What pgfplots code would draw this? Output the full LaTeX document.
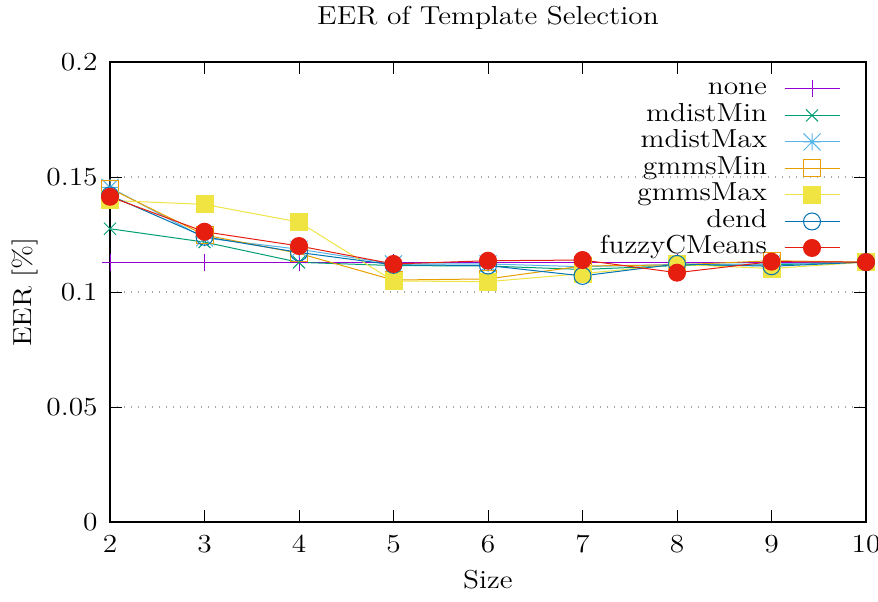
\documentclass[border=0pt]{standalone}
\usepackage{graphicx}
\usepackage{pgfplots}
\pgfplotsset{compat=1.18}
\newcommand{\sx}[1]{\scalebox{1.13}[1]{#1}}
\definecolor{cnone}{RGB}{148,0,211}
\definecolor{cmdmin}{RGB}{0,158,115}
\definecolor{cmdmax}{RGB}{86,180,233}
\definecolor{cgmin}{RGB}{230,159,0}
\definecolor{cgmax}{RGB}{240,228,66}
\definecolor{cdend}{RGB}{0,114,178}
\definecolor{cfuzzy}{RGB}{229,30,16}
\pgfdeclareplotmark{plusx}{%
  \pgfpathmoveto{\pgfqpoint{-\pgfplotmarksize}{0pt}}\pgfpathlineto{\pgfqpoint{\pgfplotmarksize}{0pt}}%
  \pgfpathmoveto{\pgfqpoint{0pt}{-\pgfplotmarksize}}\pgfpathlineto{\pgfqpoint{0pt}{\pgfplotmarksize}}%
  \pgfpathmoveto{\pgfqpoint{-\pgfplotmarksize}{-\pgfplotmarksize}}\pgfpathlineto{\pgfqpoint{\pgfplotmarksize}{\pgfplotmarksize}}%
  \pgfpathmoveto{\pgfqpoint{-\pgfplotmarksize}{\pgfplotmarksize}}\pgfpathlineto{\pgfqpoint{\pgfplotmarksize}{-\pgfplotmarksize}}%
  \pgfusepathqstroke}
\begin{document}
\fontsize{13}{15}\selectfont
\begin{tikzpicture}[font=\fontsize{13}{15}\selectfont]
\begin{axis}[
  width=378pt, height=230pt, scale only axis,
  xmin=2, xmax=10, ymin=0, ymax=0.2,
  xtick={2,3,4,5,6,7,8,9,10},
  xticklabels={\sx{2},\sx{3},\sx{4},\sx{5},\sx{6},\sx{7},\sx{8},\sx{9},\sx{10}},
  ytick={0,0.05,0.1,0.15,0.2},
  yticklabels={\sx{0},\sx{0.05},\sx{0.1},\sx{0.15},\sx{0.2}},
  tick align=inside, tick pos=both, major tick length=6pt,
  every tick/.style={black, line width=0.5pt},
  axis line style={black, line width=0.6pt},
  ymajorgrids,
  grid style={gray!70, line width=0.6pt, dash pattern=on 0.6pt off 2.9pt},
  xticklabel style={inner sep=0pt, yshift=-6.5pt},
  yticklabel style={inner sep=0pt, xshift=-6pt},
  title={\sx{EER of Template Selection}},
  every axis title shift=0pt,
  title style={at={(0.5,1.0957)}, anchor=center, yshift=0pt, inner sep=0pt},
  xlabel={\sx{Size}},
  xlabel style={at={(axis description cs:0.5,-0.1261)}, anchor=center, inner sep=0pt},
  ylabel={\sx{EER [\%]}},
  ylabel style={at={(axis description cs:-0.1124,0.5)}, anchor=center, inner sep=0pt},
  legend style={draw=none, fill=none, at={(0.9656,0.9675)}, anchor=north east,
    inner sep=0pt, outer sep=0pt, row sep=1.25pt, column sep=8.5pt,
    nodes={inner sep=0pt, text height=9pt, text depth=3pt}},
  legend cell align=right, legend plot pos=right,
  legend image code/.code={\draw[mark repeat=2,mark phase=2,#1] plot coordinates {(0pt,0pt) (13.75pt,0pt) (27.5pt,0pt)};},
  every axis plot/.append style={line width=0.5pt},
  mark size=4.25pt,
]
\addplot[color=cnone, mark=+, mark options={solid}] coordinates {
(2,0.113) (3,0.113) (4,0.113) (5,0.113) (6,0.113) (7,0.113) (8,0.113) (9,0.113) (10,0.113)};
\addlegendentry{\sx{none}}
\addplot[color=cmdmin, mark=x] coordinates {
(2,0.1275) (3,0.1217) (4,0.1129) (5,0.1115) (6,0.1113) (7,0.1098) (8,0.1115) (9,0.1118) (10,0.113)};
\addlegendentry{\sx{mdistMin}}
\addplot[color=cmdmax, mark=plusx] coordinates {
(2,0.1455) (3,0.1235) (4,0.1186) (5,0.1122) (6,0.1122) (7,0.1110) (8,0.1120) (9,0.1122) (10,0.113)};
\addlegendentry{\sx{mdistMax}}
\addplot[color=cgmin, mark=square] coordinates {
(2,0.145) (3,0.1248) (4,0.1168) (5,0.1052) (6,0.1057) (7,0.1113) (8,0.1118) (9,0.1136) (10,0.113)};
\addlegendentry{\sx{gmmsMin}}
\addplot[color=cgmax, mark=square*, mark options={fill=cgmax}] coordinates {
(2,0.1398) (3,0.1381) (4,0.1304) (5,0.1048) (6,0.1045) (7,0.1080) (8,0.1120) (9,0.1102) (10,0.113)};
\addlegendentry{\sx{gmmsMax}}
\addplot[color=cdend, mark=o] coordinates {
(2,0.142) (3,0.1240) (4,0.1172) (5,0.1118) (6,0.1115) (7,0.1070) (8,0.1122) (9,0.1112) (10,0.113)};
\addlegendentry{\sx{dend}}
\addplot[color=cfuzzy, mark=*, mark options={fill=cfuzzy}] coordinates {
(2,0.1414) (3,0.1262) (4,0.1200) (5,0.1122) (6,0.1136) (7,0.1139) (8,0.1084) (9,0.1132) (10,0.113)};
\addlegendentry{\sx{fuzzyCMeans}}
\end{axis}
\pgfresetboundingbox
\path ([xshift=-55pt,yshift=-39.5pt]current axis.south west) rectangle ([xshift=6pt,yshift=31pt]current axis.north east);
\end{tikzpicture}
\end{document}
